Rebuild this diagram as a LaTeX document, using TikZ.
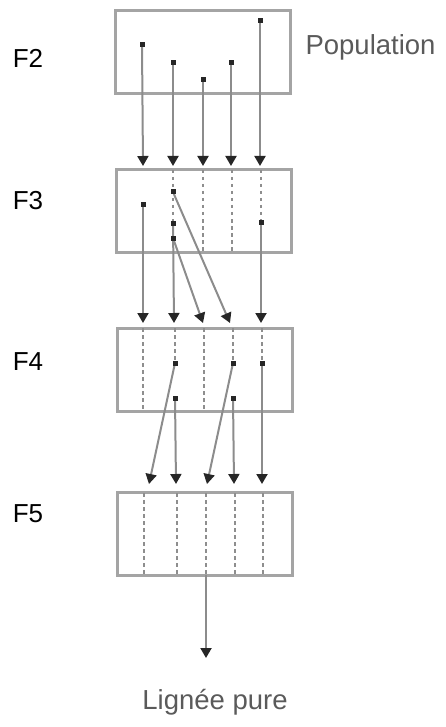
\documentclass[tikz,border=0pt]{standalone}
\usepackage{fontspec}
\setmainfont{Liberation Sans}
\usetikzlibrary{arrows.meta}
\definecolor{boxgray}{HTML}{A4A4A4}
\definecolor{linegray}{HTML}{8C8C8C}
\definecolor{dashgray}{HTML}{8E8E8E}
\definecolor{tipgray}{HTML}{262626}
\definecolor{textgray}{HTML}{5A5A5A}
\begin{document}
\begin{tikzpicture}[x=1pt,y=-1pt,
  genbox/.style={draw=boxgray, line width=2.6pt, minimum width=175pt, minimum height=83pt, inner sep=0pt},
  dot/.style={fill=tipgray, inner sep=0pt, minimum size=5pt, rectangle},
  arr/.style={draw=linegray, line width=2pt, -{Triangle[length=10pt,width=11pt,color=tipgray]}},
  dsh/.style={draw=dashgray, line width=1.6pt, dash pattern=on 3.5pt off 3.5pt},
  gen/.style={font=\fontsize{26}{28}\selectfont, text=black},
  note/.style={font=\fontsize{27.5}{30}\selectfont, text=textgray}
]
\useasboundingbox (0,0) rectangle (446,727);

% boxes
\node[genbox] (B2) at (203,52) {};
\node[genbox] (B3) at (204,211) {};
\node[genbox] (B4) at (205,370) {};
\node[genbox] (B5) at (205,534) {};

% generation labels
\node[gen] (L2) at (28,58) {F2};
\node[gen] (L3) at (28,201) {F3};
\node[gen] (L4) at (28,362) {F4};
\node[gen] (L5) at (28,514) {F5};
\node[note, anchor=west] (pop) at (302,47) {Population};

% ---- F2 dots
\coordinate (a1) at (142,45);
\coordinate (a2) at (173,63);
\coordinate (a3) at (203,80);
\coordinate (a4) at (231,63);
\coordinate (a5) at (260,21);
% arrow targets F3
\coordinate (t31) at (143,166);
\coordinate (t32) at (173,166);
\coordinate (t33) at (203,166);
\coordinate (t34) at (231,166);
\coordinate (t35) at (260,166);
\draw[arr] (a1) -- (t31);
\draw[arr] (a2) -- (t32);
\draw[arr] (a3) -- (t33);
\draw[arr] (a4) -- (t34);
\draw[arr] (a5) -- (t35);

% ---- F3 internal
\coordinate (b3t2) at (173,170);
\coordinate (b3t3) at (203,170);
\coordinate (b3t4) at (232,170);
\coordinate (b3t5) at (261,170);
\coordinate (b3b2) at (173,240);
\coordinate (b3b3) at (203,252);
\coordinate (b3b4) at (232,252);
\coordinate (c1) at (143,205);
\coordinate (c2a) at (173,192);
\coordinate (c2b) at (173,223);
\coordinate (c2c) at (173,238);
\coordinate (c5) at (261,222);
\draw[dsh] (b3t2) -- (b3b2);
\draw[dsh] (b3t3) -- (b3b3);
\draw[dsh] (b3t4) -- (b3b4);
\draw[dsh] (b3t5) -- (c5);
% arrow targets F4
\coordinate (t41) at (143,323);
\coordinate (t42) at (174,323);
\coordinate (t43) at (203,323);
\coordinate (t44) at (230,323);
\coordinate (t45) at (261,323);
\draw[arr] (c1) -- (t41);
\draw[arr] (c2b) -- (t42);
\draw[arr] (c2c) -- (t43);
\draw[arr] (c2a) -- (t44);
\draw[arr] (c5) -- (t45);

% ---- F4 internal
\coordinate (b4t1) at (143,328);
\coordinate (b4t2) at (175,328);
\coordinate (b4t3) at (204,328);
\coordinate (b4t4) at (233,328);
\coordinate (b4t5) at (262,328);
\coordinate (b4b1) at (143,412);
\coordinate (b4b3) at (204,412);
\coordinate (d2a) at (175,363);
\coordinate (d2b) at (175,398);
\coordinate (d4a) at (233,363);
\coordinate (d4b) at (233,398);
\coordinate (d5) at (262,363);
\draw[dsh] (b4t1) -- (b4b1);
\draw[dsh] (b4t2) -- (d2a);
\draw[dsh] (b4t3) -- (b4b3);
\draw[dsh] (b4t4) -- (d4a);
\draw[dsh] (b4t5) -- (d5);
% arrow targets F5
\coordinate (t51) at (149,484);
\coordinate (t52) at (176,484);
\coordinate (t53) at (207,484);
\coordinate (t54) at (234,484);
\coordinate (t55) at (262,484);
\draw[arr] (d2a) -- (t51);
\draw[arr] (d2b) -- (t52);
\draw[arr] (d4a) -- (t53);
\draw[arr] (d4b) -- (t54);
\draw[arr] (d5) -- (t55);

% ---- F5 internal
\foreach \x/\n in {144/1,177/2,206/3,235/4,263/5}{
  \coordinate (b5t\n) at (\x,493);
  \coordinate (b5b\n) at (\x,575);
  \draw[dsh] (b5t\n) -- (b5b\n);
}
\coordinate (out) at (206,658);
\draw[arr] (b5b3) -- (out);
\node[note] (pure) at (215,702) {Lignée pure};

% dots on top
\foreach \p in {a1,a2,a3,a4,a5,c1,c2a,c2b,c2c,c5,d2a,d2b,d4a,d4b,d5}{
  \node[dot] (dot-\p) at (\p) {};
}
\end{tikzpicture}
\end{document}
